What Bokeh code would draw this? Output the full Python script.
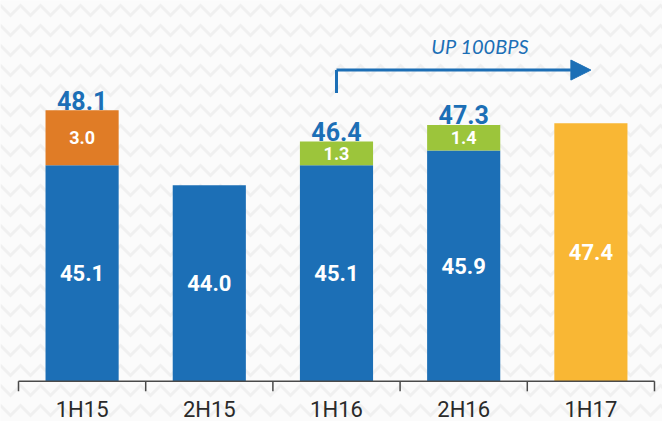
from bokeh.plotting import figure
from bokeh.models import (ColumnDataSource, Range1d, Arrow, NormalHead,
                          BoxAnnotation, Label)
from bokeh.core.properties import value
from bokeh.embed import file_html
from bokeh.resources import INLINE

# ---- data ----
categories = ["1H15", "2H15", "1H16", "2H16", "1H17"]
base_values = [45.1, 44.0, 45.1, 45.9, 47.4]
extra_values = [3.0, 0.0, 1.3, 1.4, 0.0]
total_labels = ["48.1", "", "46.4", "47.3", ""]
annotation_text = "UP 100BPS"

BLUE = "#1C6FB6"
ORANGE = "#E07C26"
GREEN = "#9CC53B"
YELLOW = "#F9B734"
AXIS = "#4A4A4A"
base_colors = [BLUE, BLUE, BLUE, BLUE, YELLOW]
extra_colors = [ORANGE, ORANGE, GREEN, GREEN, GREEN]

BASE = 33.3                      # value axis baseline (chart is truncated)
n = len(categories)
xs = [i + 0.5 for i in range(n)]
boundaries = list(range(n + 1))
tops = [b + e for b, e in zip(base_values, extra_values)]

src = ColumnDataSource(dict(
    x=xs,
    cat=categories,
    base=base_values,
    extra=extra_values,
    top=tops,
    base_mid=[(BASE + b) / 2 for b in base_values],
    extra_mid=[b + e / 2 for b, e in zip(base_values, extra_values)],
    base_lbl=[f"{b:.1f}" for b in base_values],
    extra_lbl=[f"{e:.1f}" if e > 0 else "" for e in extra_values],
    total_lbl=total_labels,
    base_color=base_colors,
    extra_color=extra_colors,
))

FONT = "Roboto"
BG = "#FBFBFB"

p = figure(width=662, height=421, output_backend="svg", toolbar_location=None,
           x_range=Range1d(-0.1415, n + 0.063), y_range=Range1d(31.1, 54.1),
           min_border=0)
p.outline_line_color = None
p.background_fill_color = BG
p.border_fill_color = BG
p.grid.visible = False
p.axis.visible = False

# zig-zag background texture
p.add_layout(BoxAnnotation(fill_color=BG, fill_alpha=1.0, line_color=None,
                           hatch_pattern="horizontal_wave", hatch_color="#F0F0F0",
                           hatch_scale=20, hatch_weight=3, level="underlay"))

W = 0.575
p.vbar(x="x", width=W, bottom=BASE, top="base", color="base_color", line_color=None, source=src)
p.vbar(x="x", width=W, bottom="base", top="top", color="extra_color", line_color=None,
       source=src)

# category axis: baseline, boundary ticks, category names
p.segment(x0=[boundaries[0]], y0=[BASE], x1=[boundaries[-1]], y1=[BASE],
          line_color=AXIS, line_width=1.5)
p.segment(x0=boundaries, y0=[BASE] * len(boundaries), x1=boundaries,
          y1=[BASE - 0.55] * len(boundaries), line_color=AXIS, line_width=1.5)
p.text(x="x", y=BASE, text="cat", source=src, text_color="#2A2A2A",
       text_font=value(FONT), text_font_size="22px", text_align="center",
       text_baseline="middle", y_offset=28)

# value labels
p.text(x="x", y="base_mid", text="base_lbl", source=src, text_color="white",
       text_font=value(FONT), text_font_style="bold", text_font_size="22px",
       text_align="center", text_baseline="middle")
p.text(x="x", y="extra_mid", text="extra_lbl", source=src, text_color="white",
       text_font=value(FONT), text_font_style="bold", text_font_size="18px",
       text_align="center", text_baseline="middle")
p.text(x="x", y="top", text="total_lbl", source=src, text_color=BLUE,
       text_font=value(FONT), text_font_style="bold", text_font_size="25px",
       text_align="center", text_baseline="alphabetic", y_offset=-10)

# arrow annotation: from 1H16 to 1H17
arrow_y = max(tops) + 2.2
x_from = xs[2]
x_to = xs[4]
p.add_layout(Arrow(end=NormalHead(size=20, fill_color=BLUE, line_color=BLUE),
                   x_start=x_from, y_start=arrow_y, x_end=x_to, y_end=arrow_y,
                   line_color=BLUE, line_width=3))
p.segment(x0=[x_from], y0=[max(tops) + 0.95], x1=[x_from], y1=[arrow_y],
          line_color=BLUE, line_width=3)
p.add_layout(Label(x=(xs[3] + xs[4]) / 2 - 0.37, y=arrow_y + 1.32, text=annotation_text,
                   text_color=BLUE, text_font="Lato", text_font_style="italic",
                   text_font_size="20px", text_align="center", text_baseline="middle"))

open("out.html", "w").write(file_html(p, INLINE))
